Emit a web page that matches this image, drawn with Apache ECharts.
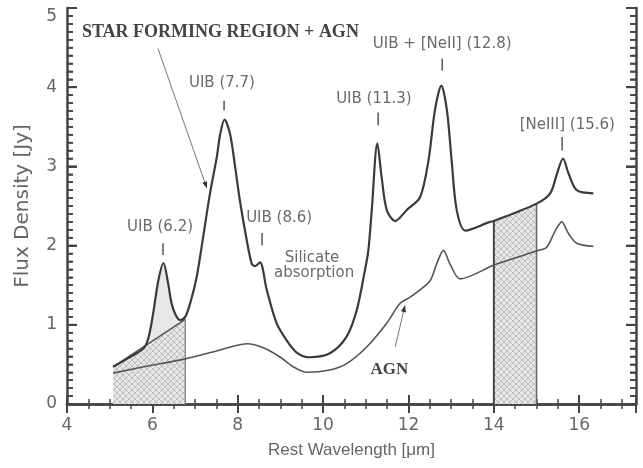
<!DOCTYPE html>
<html>
<head>
<meta charset="utf-8">
<script src="https://cdn.jsdelivr.net/npm/echarts@6/dist/echarts.min.js"></script>
<style>html,body{margin:0;padding:0;background:#fff;}#c{width:643px;height:468px;}</style>
</head>
<body>
<div id="c"></div>
<script>
// Star forming region + AGN spectrum (upper curve)
const upperX = [5.08,5.40,5.79,5.91,6.02,6.14,6.26,6.37,6.45,6.55,6.65,6.77,6.90,7.04,7.19,7.35,7.51,7.59,7.69,7.82,7.94,8.05,8.21,8.33,8.41,8.52,8.68,8.91,9.15,9.38,9.69,10.16,10.55,10.79,10.98,11.06,11.14,11.27,11.37,11.49,11.69,11.96,12.27,12.47,12.62,12.77,12.90,13.01,13.13,13.33,13.91,14.00,15.00,15.32,15.48,15.62,15.75,15.94,16.33];
const upperY = [0.47,0.57,0.70,0.84,1.15,1.56,1.78,1.52,1.27,1.12,1.06,1.10,1.30,1.61,2.11,2.66,3.12,3.41,3.59,3.41,2.99,2.57,2.07,1.77,1.74,1.79,1.44,1.02,0.80,0.65,0.59,0.64,0.85,1.19,1.69,1.94,2.45,3.29,2.87,2.45,2.31,2.45,2.61,3.08,3.71,4.02,3.71,3.08,2.45,2.19,2.30,2.31,2.53,2.66,2.91,3.10,2.91,2.70,2.66];
// AGN spectrum (lower curve)
const agnX = [5.08,5.80,6.77,7.50,7.90,8.22,8.60,9.00,9.30,9.62,10.16,10.55,11.02,11.49,11.80,12.04,12.27,12.51,12.66,12.82,12.97,13.21,14.03,15.05,15.24,15.44,15.59,15.75,15.94,16.33];
const agnY = [0.39,0.47,0.57,0.67,0.73,0.76,0.71,0.59,0.47,0.40,0.43,0.51,0.72,1.02,1.27,1.35,1.44,1.56,1.77,1.94,1.77,1.58,1.76,1.94,1.98,2.19,2.30,2.15,2.03,1.99];
// continuum under the 6.2 micron feature
const contX = [5.08,6.77];
const contY = [0.47,1.07];
// integration bands
const band1 = [5.08,6.77];
const band2 = [14.0,15.0];
// x / y axis ticks
const xTicks = [4,6,8,10,12,14,16];
const yTicks = [0,1,2,3,4,5];
// annotations [text, x, y]
const labels = [
  ['UIB (6.2)', 6.18, 2.23],
  ['UIB (7.7)', 7.63, 4.05],
  ['UIB (8.6)', 8.97, 2.35],
  ['Silicate', 9.74, 1.84],
  ['absorption', 9.79, 1.65],
  ['UIB (11.3)', 11.19, 3.85],
  ['UIB + [NeII] (12.8)', 12.79, 4.55],
  ['[NeIII] (15.6)', 15.72, 3.52]
];
// small marker ticks [x, yBottom, yTop]
const markTicks = [[6.25,1.88,2.03],[7.68,3.71,3.83],[8.57,2.00,2.16],[11.29,3.52,3.68],[12.79,4.21,4.36],[15.60,3.20,3.37]];
const titleSF = ['STAR FORMING REGION + AGN', 4.35, 4.69];
const titleAGN = ['AGN', 11.55, 0.43];
const arrows = [[6.13,4.49,7.28,2.72],[11.69,0.72,11.92,1.25]];

const X_MIN = 4, X_MAX = 17.33, Y_MIN = 0, Y_MAX = 5;
const upper = upperX.map((x,i)=>[x,upperY[i]]);
const agn = agnX.map((x,i)=>[x,agnY[i]]);
const cont = contX.map((x,i)=>[x,contY[i]]);
const feat62 = upper.filter(p=>p[0]>=band1[0] && p[0]<=band1[1]);
const band2Pts = upper.filter(p=>p[0]>=band2[0] && p[0]<=band2[1]);
function yAt(arr,x){for(let i=0;i<arr.length-1;i++){if(x>=arr[i][0]&&x<=arr[i+1][0]){const t=(x-arr[i][0])/(arr[i+1][0]-arr[i][0]);return arr[i][1]+t*(arr[i+1][1]-arr[i][1]);}}return 0;}
// y tick positions (major every 1, minor every 0.1)
const yTickVals = [];
for (let k = 0; k <= 50; k++) yTickVals.push([Y_MIN + k * (Y_MAX - Y_MIN) / 50, k % 10 === 0 ? 1 : 0]);

// hatch pattern
const pc = document.createElement('canvas');
pc.width = 6; pc.height = 6;
const g = pc.getContext('2d');
g.fillStyle = '#e6e6e6'; g.fillRect(0,0,6,6);
g.strokeStyle = '#b4b4b4'; g.lineWidth = 0.8;
g.beginPath(); g.moveTo(0,6); g.lineTo(6,0); g.moveTo(-3,3); g.lineTo(3,-3); g.moveTo(3,9); g.lineTo(9,3);
g.moveTo(0,0); g.lineTo(6,6); g.moveTo(-3,3); g.lineTo(3,9); g.moveTo(3,-3); g.lineTo(9,3); g.stroke();
const hatch = {image: pc, repeat: 'repeat'};

const FONT = 'DejaVu Sans';
const LFONT = 'Liberation Sans';
const AX = '#444';

const chart = echarts.init(document.getElementById('c'), null, {renderer:'canvas'});
chart.setOption({
  animation:false,
  backgroundColor:'#fff',
  grid:{left:67, right:7, top:8, bottom:64},
  xAxis:[
    {type:'value', min:X_MIN, max:X_MAX, interval:2, position:'bottom', splitLine:{show:false},
      axisLine:{show:true, lineStyle:{color:AX, width:2.5}},
      axisTick:{show:true, inside:true, length:9, lineStyle:{color:AX, width:2}},
      minorTick:{show:true, splitNumber:4, length:5, lineStyle:{color:AX, width:1.5}},
      axisLabel:{color:'#666', fontSize:17, fontFamily:FONT, margin:13, formatter:v=>xTicks.includes(v)?String(v):''},
      name:'Rest Wavelength [μm]', nameLocation:'middle', nameGap:38,
      nameTextStyle:{color:'#666', fontSize:17, fontFamily:LFONT}},
    {type:'value', min:X_MIN, max:X_MAX, interval:2, position:'top', splitLine:{show:false},
      axisLine:{show:true, lineStyle:{color:AX, width:2.5}},
      axisTick:{show:true, inside:true, length:9, lineStyle:{color:AX, width:2}},
      minorTick:{show:true, splitNumber:4, length:5, lineStyle:{color:AX, width:1.5}},
      axisLabel:{show:false}}
  ],
  yAxis:[
    {type:'value', min:Y_MIN, max:Y_MAX, interval:1, position:'left', splitLine:{show:false},
      axisLine:{show:true, lineStyle:{color:AX, width:2.5}},
      axisTick:{show:true, inside:true, length:10, lineStyle:{color:AX, width:2}},
      minorTick:{show:true, splitNumber:10, length:6, lineStyle:{color:AX, width:1.6}},
      axisLabel:{color:'#666', fontSize:17, fontFamily:FONT, margin:10, verticalAlignMaxLabel:'top', formatter:v=>yTicks.includes(v)?String(v):''},
      name:'Flux Density [Jy]', nameLocation:'middle', nameGap:34, nameRotate:90,
      nameTextStyle:{color:'#666', fontSize:20, fontFamily:FONT}},
    {type:'value', min:Y_MIN, max:Y_MAX, interval:1, position:'right', splitLine:{show:false},
      axisLine:{show:true, lineStyle:{color:AX, width:2.5}},
      axisTick:{show:true, inside:true, length:10, lineStyle:{color:AX, width:2}},
      minorTick:{show:true, splitNumber:10, length:6, lineStyle:{color:AX, width:1.6}},
      axisLabel:{show:false}}
  ],
  series:[
    {type:'line', data:feat62, smooth:0.3, showSymbol:false, symbol:'none', lineStyle:{width:0}, areaStyle:{color:'#e8e8e8', opacity:1}, z:1},
    {type:'line', data:cont, showSymbol:false, symbol:'none', lineStyle:{color:'#555', width:1.5}, areaStyle:{color:hatch, opacity:1}, z:2},
    {type:'line', data:[[band1[1],0],[band1[1],yAt(cont,band1[1])]], symbol:'none', lineStyle:{color:'#777', width:1.2}, z:3},
    {type:'line', data:band2Pts, showSymbol:false, symbol:'none', lineStyle:{width:0}, areaStyle:{color:hatch, opacity:1}, z:2},
    {type:'line', data:[[band2[0],0],[band2[0],yAt(upper,band2[0])]], symbol:'none', lineStyle:{color:'#444', width:2}, z:3},
    {type:'line', data:[[band2[1],0],[band2[1],yAt(upper,band2[1])]], symbol:'none', lineStyle:{color:'#666', width:1.5}, z:3},
    {type:'line', data:agn, smooth:0.3, symbol:'none', lineStyle:{color:'#555', width:1.6}, z:4},
    {type:'line', data:upper, smooth:0.3, symbol:'none', lineStyle:{color:'#3a3a3a', width:2.2}, z:5},
    {type:'custom', clip:false, z:50, silent:true, data:yTickVals,
      renderItem:function(params, api){
        const v = api.value(0), major = api.value(1) === 1;
        const len = major ? 10 : 6, h = major ? 2 : 1.6;
        const L = api.coord([X_MIN, v]), R = api.coord([X_MAX, v]);
        return {type:'group', children:[
          {type:'rect', shape:{x:L[0], y:L[1]-h/2, width:len, height:h}, style:{fill:AX}},
          {type:'rect', shape:{x:R[0]-len, y:R[1]-h/2, width:len, height:h}, style:{fill:AX}}
        ]};
      }}
  ]
});

function P(x,y){return chart.convertToPixel({gridIndex:0},[x,y]);}
const gr = [];
labels.forEach(l=>{const p=P(l[1],l[2]);gr.push({type:'text', x:p[0], y:p[1], z:10, style:{text:l[0], fill:'#6a6a6a', fontSize:15, fontFamily:FONT, align:'center', verticalAlign:'middle'}});});
markTicks.forEach(t=>{const a=P(t[0],t[1]),b=P(t[0],t[2]);gr.push({type:'line', z:10, shape:{x1:a[0],y1:a[1],x2:b[0],y2:b[1]}, style:{stroke:'#555', lineWidth:1.5}});});
(function(){const p=P(titleSF[1],titleSF[2]);gr.push({type:'text', x:p[0], y:p[1], z:10, style:{text:titleSF[0], fill:'#444', fontSize:18, fontWeight:'bold', fontFamily:'Liberation Serif', align:'left', verticalAlign:'middle'}});})();
(function(){const p=P(titleAGN[1],titleAGN[2]);gr.push({type:'text', x:p[0], y:p[1], z:10, style:{text:titleAGN[0], fill:'#444', fontSize:17, fontWeight:'bold', fontFamily:'Liberation Serif', align:'center', verticalAlign:'middle'}});})();
arrows.forEach(a=>{const s=P(a[0],a[1]),e=P(a[2],a[3]);const dx=e[0]-s[0],dy=e[1]-s[1],L=Math.hypot(dx,dy),ux=dx/L,uy=dy/L;const hl=7,hw=2.5;
  gr.push({type:'line', z:10, shape:{x1:s[0],y1:s[1],x2:e[0]-ux*hl*0.6,y2:e[1]-uy*hl*0.6}, style:{stroke:'#777', lineWidth:1}});
  gr.push({type:'polygon', z:10, shape:{points:[[e[0],e[1]],[e[0]-ux*hl-uy*hw,e[1]-uy*hl+ux*hw],[e[0]-ux*hl+uy*hw,e[1]-uy*hl-ux*hw]]}, style:{fill:'#333'}});});
chart.setOption({graphic:gr});
</script>
</body>
</html>
